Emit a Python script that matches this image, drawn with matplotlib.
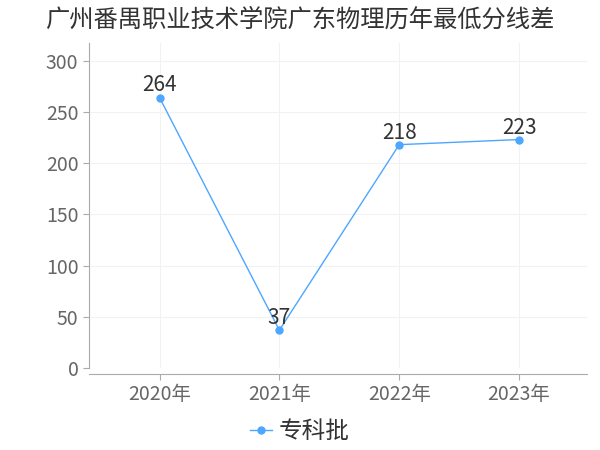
import matplotlib.pyplot as plt

plt.rcParams['font.family'] = ['Noto Sans CJK SC', 'DejaVu Sans']

years = ["2020年", "2021年", "2022年", "2023年"]
scores = [264, 37, 218, 223]
series_name = "专科批"
title = "广州番禺职业技术学院广东物理历年最低分线差"

lineColor = "#4da6ff"
textColor = "#666666"

fig = plt.figure(figsize=(6, 4.5), dpi=100)
ax = fig.add_axes([0.148, 0.182, 0.83, 0.722])

xs = range(len(years))
line, = ax.plot(xs, scores, color=lineColor, linewidth=1, marker="o", markersize=5, label=series_name)
for x, v in zip(xs, scores):
    ax.text(x, v + 1, str(v), ha="center", va="bottom", fontsize=15, color="#333333")

ax.set_xlim(-0.59, 3.565)
ax.set_ylim(0, 317)
ax.set_yticks([0, 50, 100, 150, 200, 250, 300])
ax.set_xticks(list(xs))
ax.set_xticklabels(years)
ax.tick_params(axis="both", labelsize=14, colors=textColor, length=4)
ax.tick_params(axis="both", color="#aaaaaa")

ax.grid(True, color="#f2f2f2", linewidth=0.8)
ax.set_axisbelow(True)
for side in ["top", "right"]:
    ax.spines[side].set_visible(False)
ax.spines["left"].set_color("#aaaaaa")
ax.spines["bottom"].set_color("#aaaaaa")
ax.spines["bottom"].set_position(("outward", 4))

fig.text(0.075, 0.957, title, fontsize=17.5, color="#333333", ha="left", va="center")

fig.legend(handles=[line], loc="center", bbox_to_anchor=(0.5, 0.04), frameon=False,
           fontsize=17, handlelength=0.9, handletextpad=0.3, labelcolor="#333333")

fig.savefig("out.png")
